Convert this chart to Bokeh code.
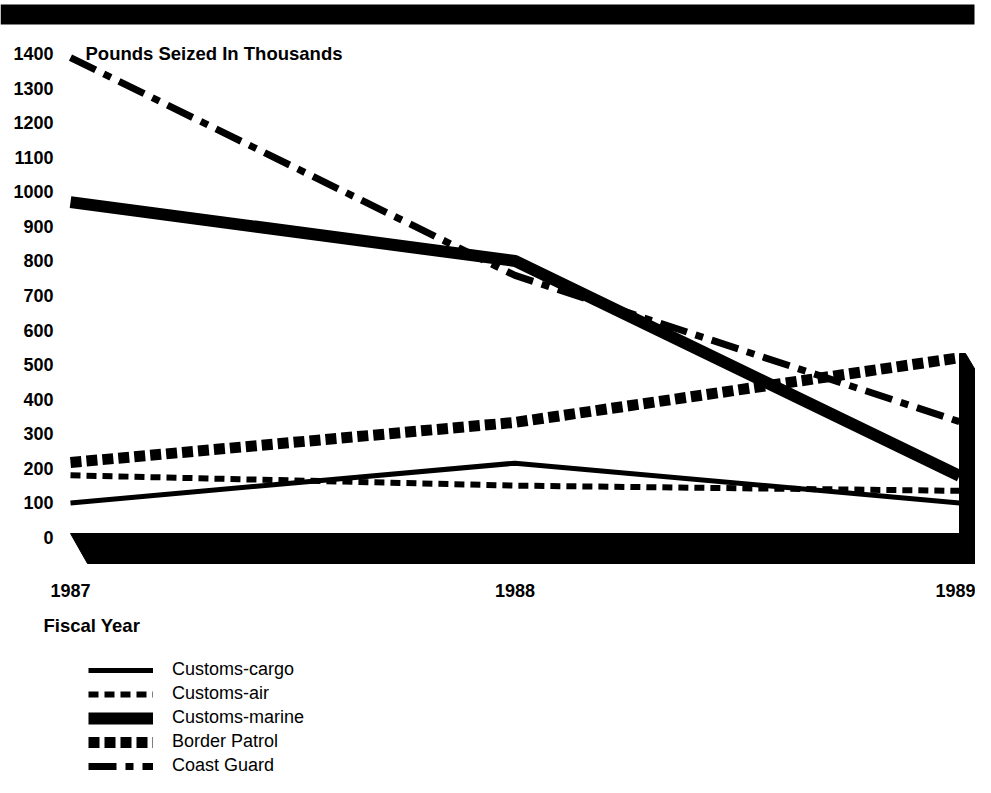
from bokeh.plotting import figure
from bokeh.models import Range1d, FixedTicker, Legend, LegendItem, ColumnDataSource
from bokeh.core.properties import value
from bokeh.embed import file_html
from bokeh.resources import INLINE

# ---------------- data ----------------
years = [1987, 1988, 1989]
year_labels = ["1987", "1988", "1989"]
y_ticks = [0, 100, 200, 300, 400, 500, 600, 700, 800, 900, 1000, 1100, 1200, 1300, 1400]
y_tick_labels = [str(t) for t in y_ticks]

customs_cargo = [100, 215, 100]
customs_air = [180, 150, 135]
customs_marine = [970, 800, 178]
border_patrol = [217, 333, 520]
coast_guard = [1388, 758, 335]

series_names = ["Customs-cargo", "Customs-air", "Customs-marine", "Border Patrol", "Coast Guard"]
y_title = "Pounds Seized In Thousands"
x_title = "Fiscal Year"

# ---------------- geometry (picture pixels) ----------------
W, H = 975, 777
PX_1987, PX_1989 = 70, 959        # x of first / last year
PY_0, PY_1400 = 537, 53           # y of 0 / 1400
sx = (PX_1989 - PX_1987) / (years[-1] - years[0])
sy = (PY_0 - PY_1400) / 1400.0


def X(px):
    return years[0] + (px - PX_1987) / sx


def Y(py):
    return (PY_0 - py) / sy


x0, x1 = X(0), X(W)
y0, y1 = Y(H), Y(0)

FONT = "Liberation Sans"

p = figure(width=W, height=H, output_backend="svg", toolbar_location=None,
           x_range=Range1d(x0, x1), y_range=Range1d(y0, y1),
           min_border=0, min_border_left=0, min_border_right=0,
           min_border_top=0, min_border_bottom=0)
p.outline_line_color = None
p.grid.visible = False
p.background_fill_color = "white"
p.border_fill_color = "white"

# top black band
p.quad(left=[X(0)], right=[X(974)], top=[Y(4)], bottom=[Y(24)],
       fill_color="black", line_color=None)

# ---------------- series ----------------
src = ColumnDataSource(dict(year=years, cargo=customs_cargo, air=customs_air,
                            marine=customs_marine, border=border_patrol, coast=coast_guard))

r_coast = p.line("year", "coast", source=src, line_color="black", line_width=7,
                 line_dash="28 9 8 9", line_cap="butt")
r_air = p.line("year", "air", source=src, line_color="black", line_width=6,
               line_dash="10 6", line_cap="butt")
r_border = p.line("year", "border", source=src, line_color="black", line_width=11,
                  line_dash="11 5", line_cap="butt")
r_cargo = p.line("year", "cargo", source=src, line_color="black", line_width=5,
                 line_cap="butt")
r_marine = p.line("year", "marine", source=src, line_color="black", line_width=12,
                  line_cap="butt")

# 3-D floor and right wall
floor_px = [(70, 533), (959, 533), (959, 353), (965, 353), (984, 385), (984, 563), (87, 563)]
p.patch([X(a) for a, b in floor_px], [Y(b) for a, b in floor_px],
        fill_color="black", line_color="black", line_width=1)

# ---------------- axes ----------------
yax = p.yaxis[0]
yax.fixed_location = X(57)
yax.ticker = FixedTicker(ticks=y_ticks)
yax.major_label_overrides = {t: l for t, l in zip(y_ticks, y_tick_labels)}
yax.axis_line_color = None
yax.major_tick_line_color = None
yax.minor_tick_line_color = None
yax.major_tick_out = 0
yax.major_tick_in = 0
yax.major_label_standoff = 4
yax.major_label_text_font = FONT
yax.major_label_text_font_style = "bold"
yax.major_label_text_font_size = "18px"
yax.major_label_text_color = "black"

xax = p.xaxis[0]
xax.fixed_location = Y(581)
xax.ticker = FixedTicker(ticks=years)
xax.major_label_overrides = {y: l for y, l in zip(years, year_labels)}
xax.axis_line_color = None
xax.major_tick_line_color = None
xax.minor_tick_line_color = None
xax.major_tick_out = 0
xax.major_tick_in = 0
xax.major_label_standoff = 2
xax.major_label_text_font = FONT
xax.major_label_text_font_style = "bold"
xax.major_label_text_font_size = "18px"
xax.major_label_text_color = "black"

# titles
p.text(x=[X(85)], y=[Y(53)], text=[y_title], text_font=value(FONT),
       text_font_style="bold", text_font_size="18.5px", text_align="left",
       text_baseline="middle", text_color="black")
p.text(x=[X(43)], y=[Y(625)], text=[x_title], text_font=value(FONT),
       text_font_style="bold", text_font_size="18.5px", text_align="left",
       text_baseline="middle", text_color="black")

# ---------------- legend ----------------
renderers = [r_cargo, r_air, r_marine, r_border, r_coast]
legend = Legend(items=[LegendItem(label=n, renderers=[r]) for n, r in zip(series_names, renderers)],
                location=(88, 1), orientation="vertical",
                glyph_width=65, glyph_height=18, label_height=18, spacing=3,
                label_standoff=19, padding=0, margin=0,
                border_line_color=None, background_fill_alpha=0,
                label_text_font=FONT, label_text_font_size="18px",
                label_text_color="black")
p.add_layout(legend)

open("out.html", "w").write(file_html(p, INLINE))
